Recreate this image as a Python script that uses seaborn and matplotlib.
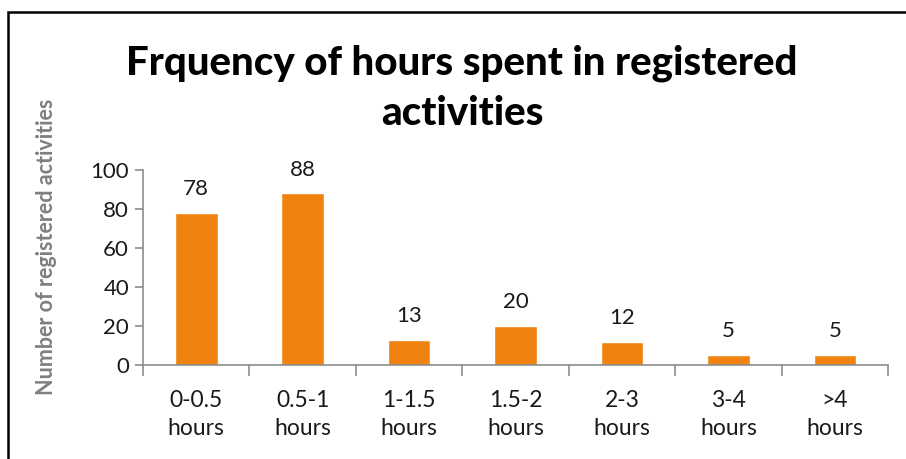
import matplotlib
matplotlib.use("Agg")
import matplotlib.pyplot as plt
import seaborn as sns
import pandas as pd
from matplotlib.patches import Rectangle

categories = ["0-0.5\nhours", "0.5-1\nhours", "1-1.5\nhours", "1.5-2\nhours",
              "2-3\nhours", "3-4\nhours", ">4\nhours"]
values = [78, 88, 13, 20, 12, 5, 5]
title = "Frquency of hours spent in registered\nactivities"
ylabel = "Number of registered activities"

sns.set_theme(style="white")
plt.rcParams['font.family'] = ['Lato', 'DejaVu Sans']

df = pd.DataFrame({"cat": categories, "val": values})

fig = plt.figure(figsize=(9.06, 4.59), dpi=100)
ax = fig.add_axes([143/906, (459-365)/459, 745/906, 195/459])

sns.barplot(data=df, x="cat", y="val", color="#F0820F", saturation=1,
            width=0.4, ax=ax)

ax.set_xlim(-0.5, len(categories) - 0.5)
ax.set_ylim(0, 100)
ax.set_yticks(range(0, 101, 20))
ax.set_xlabel("")
ax.set_ylabel("")

axis_color = "#8C8C8C"
for s in ["top", "right"]:
    ax.spines[s].set_visible(False)
for s in ["left", "bottom"]:
    ax.spines[s].set_color(axis_color)
    ax.spines[s].set_linewidth(1.2)

ax.tick_params(axis="y", which="major", length=6, width=1.2, color=axis_color,
               labelsize=16, labelcolor="#1a1a1a", pad=4, left=True)
ax.tick_params(axis="x", which="major", length=0, labelsize=16.5,
               labelcolor="#1a1a1a", pad=18)
ax.set_xticks([i - 0.5 for i in range(len(categories) + 1)], minor=True)
ax.tick_params(axis="x", which="minor", length=8, width=1.2, color=axis_color,
               bottom=True)
for lab in ax.get_xticklabels():
    lab.set_linespacing(1.4)

for c in ax.containers:
    ax.bar_label(c, labels=[str(v) for v in values], padding=10,
                 fontsize=16, color="#1a1a1a")

fig.text(462/906, 1 - 88/459, title, ha="center", va="center",
         fontsize=29, fontweight="black", color="#000000", linespacing=1.45)
fig.text(47/906, 1 - 247/459, ylabel, ha="center", va="center", rotation=90,
         fontsize=15.5, fontweight="bold", color="#7F7F7F")

fig.patches.append(Rectangle((8/906, -0.1), 1.2, 1 - 12/459 + 0.1,
                             transform=fig.transFigure, fill=False,
                             edgecolor="black", linewidth=1.8))

fig.savefig("out.png", dpi=100)
